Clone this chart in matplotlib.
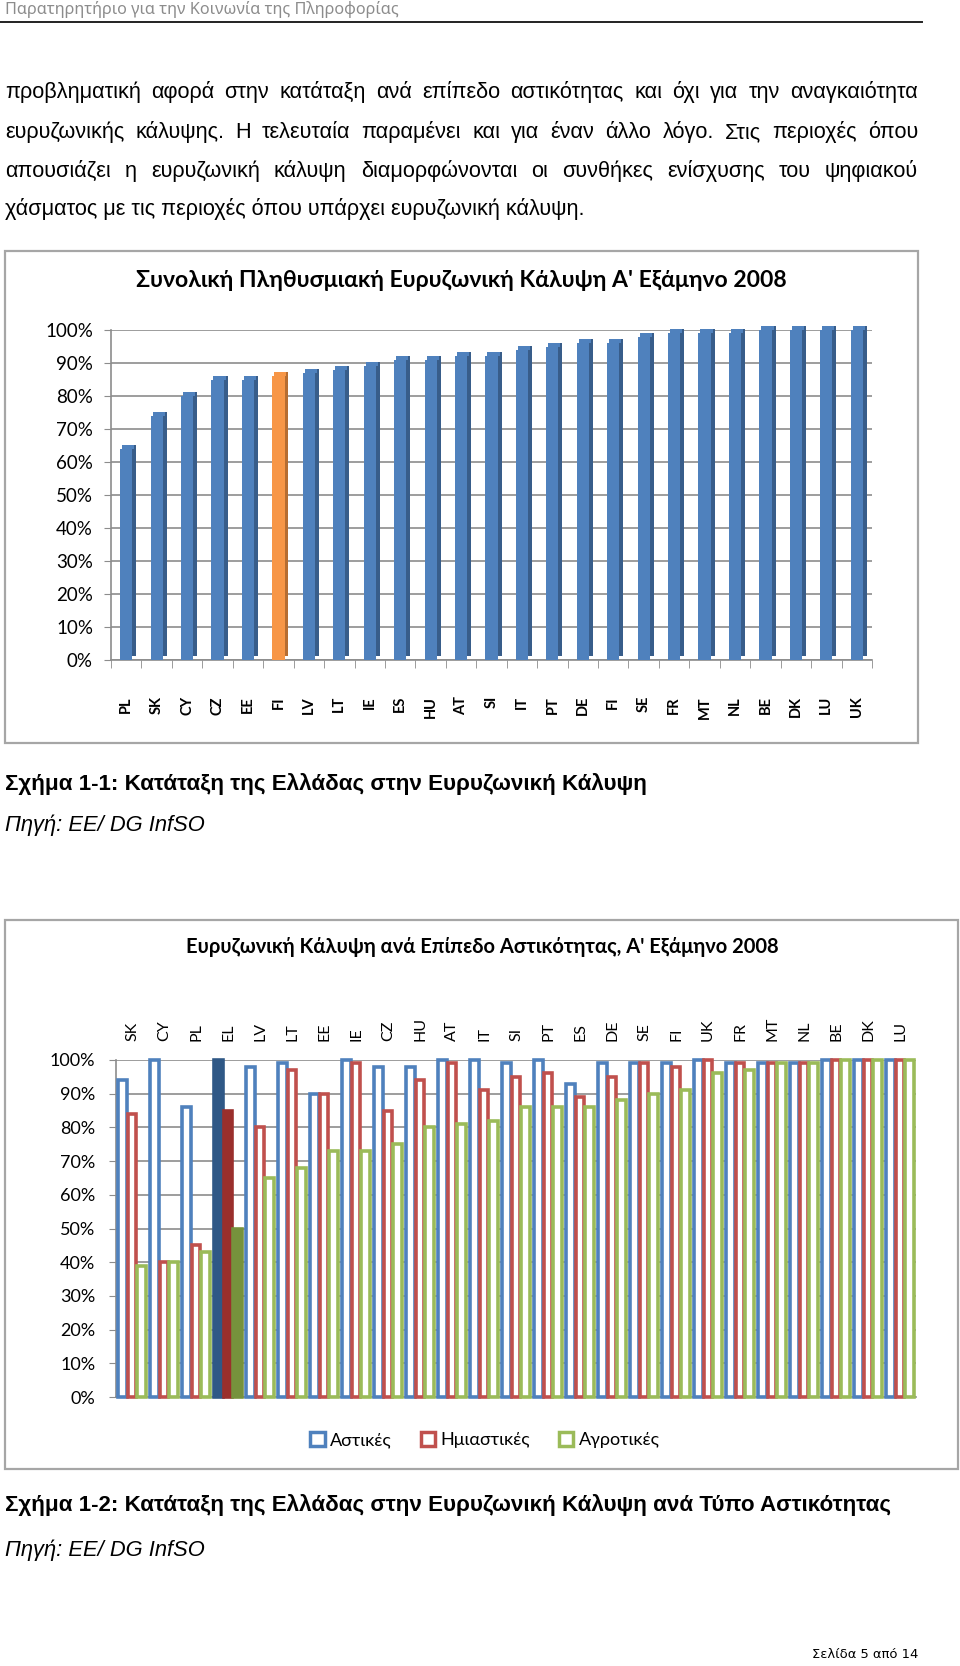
import matplotlib
matplotlib.use('Agg')
import matplotlib.pyplot as plt
from matplotlib.patches import Rectangle, Patch
from matplotlib.lines import Line2D
import numpy as np

# --- data -------------------------------------------------------------
countries_total = ['PL', 'SK', 'CY', 'CZ', 'EE', 'FI', 'LV', 'LT', 'IE', 'ES', 'HU', 'AT', 'SI',
                   'IT', 'PT', 'DE', 'FI', 'SE', 'FR', 'MT', 'NL', 'BE', 'DK', 'LU', 'UK']
coverage_total = [64, 74, 80, 85, 85, 86, 87, 88, 89, 91, 91, 92, 92,
                  94, 95, 96, 96, 98, 99, 99, 99, 100, 100, 100, 100]
highlight_total = 5

countries_type = ['SK', 'CY', 'PL', 'EL', 'LV', 'LT', 'EE', 'IE', 'CZ', 'HU', 'AT', 'IT', 'SI',
                  'PT', 'ES', 'DE', 'SE', 'FI', 'UK', 'FR', 'MT', 'NL', 'BE', 'DK', 'LU']
urban = [94, 100, 86, 100, 98, 99, 90, 100, 98, 98, 100, 100, 99,
         100, 93, 99, 99, 99, 100, 99, 99, 99, 100, 100, 100]
semi_urban = [84, 40, 45, 85, 80, 97, 90, 99, 85, 94, 99, 91, 95,
              96, 89, 95, 99, 98, 100, 99, 99, 99, 100, 100, 100]
rural = [39, 40, 43, 50, 65, 68, 73, 73, 75, 80, 81, 82, 86,
         86, 86, 88, 90, 91, 96, 97, 99, 99, 100, 100, 100]
series_names = ['Αστικές', 'Ημιαστικές', 'Αγροτικές']
highlight_type = 3

percent_ticks = list(range(0, 101, 10))
percent_labels = ['%d%%' % p for p in percent_ticks]

paragraph = [
    'προβληματική αφορά στην κατάταξη ανά επίπεδο αστικότητας και όχι για την αναγκαιότητα',
    'ευρυζωνικής κάλυψης. Η τελευταία παραμένει και για έναν άλλο λόγο. Στις περιοχές όπου',
    'απουσιάζει η ευρυζωνική κάλυψη διαμορφώνονται οι συνθήκες ενίσχυσης του ψηφιακού',
    'χάσματος με τις περιοχές όπου υπάρχει ευρυζωνική κάλυψη.',
]

BLUE, BLUE_D, BLUE_DD = '#4F81BD', '#385D8A', '#2F5886'
ORANGE, ORANGE_D = '#F79646', '#B66D31'
RED, RED_D = '#C0504D', '#9A2F2C'
GREEN, GREEN_D = '#9BBB59', '#76923C'
CHART_FONT = ['Lato', 'Open Sans', 'DejaVu Sans']
TEXT_FONT = ['Liberation Sans', 'DejaVu Sans']

W, H = 960, 1666
fig = plt.figure(figsize=(W / 100, H / 100), dpi=100)
renderer = fig.canvas.get_renderer()


def fx(x):
    return x / W


def fy(y):
    return 1 - y / H


def fit(s, x, y, width, ha='left', va='center', **kw):
    # size the text so that it covers the given pixel width
    t = fig.text(fx(x), fy(y), s, fontsize=10, ha=ha, va=va, **kw)
    w = t.get_window_extent(renderer).width
    t.set_fontsize(10 * width / w)
    return t


def justify(line, y, x0, x1, size):
    words = line.split(' ')
    texts = [fig.text(0, fy(y), w, fontsize=size, family=TEXT_FONT, va='baseline') for w in words]
    widths = [t.get_window_extent(renderer).width for t in texts]
    gap = (x1 - x0 - sum(widths)) / (len(words) - 1)
    x = x0
    for t, w in zip(texts, widths):
        t.set_x(fx(x))
        x += w + gap


def px_axes(l, t, r, b):
    return fig.add_axes([fx(l), fy(b), (r - l) / W, (b - t) / H])


def box(l, t, r, b):
    fig.add_artist(Rectangle((fx(l), fy(b)), (r - l) / W, (b - t) / H, transform=fig.transFigure,
                             fill=False, edgecolor='#A6A6A6', lw=1.6))


# --- page header and text ---------------------------------------------
fit('Παρατηρητήριο για την Κοινωνία της Πληροφορίας', 5, 10, 393, color='#8C8C8C',
    family=['Noto Sans', 'DejaVu Sans'])
fig.add_artist(Line2D([0, fx(922)], [fy(22), fy(22)], color='#222222', lw=1.4,
                      transform=fig.transFigure))

last = fit(paragraph[-1], 5, 215, 582, va='baseline', family=TEXT_FONT)
psize = last.get_fontsize()
for line, y in zip(paragraph[:-1], [98, 138, 177]):
    justify(line, y, 5, 918, psize)

# --- chart 1 ------------------------------------------------------------
box(5, 251, 918, 743)
fit('Συνολική Πληθυσμιακή Ευρυζωνική Κάλυψη Α\' Εξάμηνο 2008', 461, 280, 652, ha='center',
    family=CHART_FONT, fontweight='bold')

ax1 = px_axes(111, 330, 872, 660)
x1 = np.arange(len(countries_total))
v1 = np.array(coverage_total) / 100
fronts = [ORANGE if i == highlight_total else BLUE for i in x1]
sides = [ORANGE_D if i == highlight_total else BLUE_D for i in x1]
ax1.bar(x1 + 0.265, v1, width=0.13, bottom=0.012, color=sides, zorder=2, clip_on=False)
ax1.bar(x1 + 0.065, 0.012, width=0.4, bottom=v1, color=fronts, zorder=2, clip_on=False)
ax1.bar(x1, v1, width=0.4, color=fronts, zorder=3, clip_on=False)
ax1.set_xlim(-0.5, len(countries_total) - 0.5)
ax1.set_ylim(0, 1)
ax1.set_yticks(np.array(percent_ticks) / 100)
ax1.set_yticklabels(percent_labels, family=CHART_FONT, fontsize=13.5)
ax1.set_xticks(x1)
ax1.set_xticklabels(countries_total, rotation=90, va='top', family=CHART_FONT,
                    fontweight='bold', fontsize=10.5)
ax1.set_xticks(np.arange(len(countries_total) + 1) - 0.5, minor=True)
ax1.tick_params(axis='x', which='major', length=0, pad=26)
ax1.tick_params(axis='x', which='minor', length=6, color='#8C8C8C')
ax1.tick_params(axis='y', length=5, color='#8C8C8C', pad=8)
ax1.grid(axis='y', color='#8C8C8C', lw=1.2)
ax1.set_axisbelow(True)
for s in ['top', 'right']:
    ax1.spines[s].set_visible(False)
for s in ['left', 'bottom']:
    ax1.spines[s].set_color('#8C8C8C')
    ax1.spines[s].set_linewidth(1.2)

fit('Σχήμα 1-1: Κατάταξη της Ελλάδας στην Ευρυζωνική Κάλυψη', 5, 784, 640,
    family=TEXT_FONT, fontweight='bold')
fit('Πηγή: ΕΕ/ DG InfSO', 5, 825, 200, family=TEXT_FONT, style='italic')

# --- chart 2 ------------------------------------------------------------
box(5, 920, 958, 1469)
fit('Ευρυζωνική Κάλυψη ανά Επίπεδο Αστικότητας, Α\' Εξάμηνο 2008', 482, 947, 592, ha='center',
    family=CHART_FONT, fontweight='bold')

ax2 = px_axes(116, 1060, 916, 1397)
x2 = np.arange(len(countries_type))
series = [urban, semi_urban, rural]
colors = [BLUE, RED, GREEN]
dark = [BLUE_DD, RED_D, GREEN_D]
offsets = [-0.31, 0.0, 0.31]
for vals, c, d, off in zip(series, colors, dark, offsets):
    faces = [d if i == highlight_type else 'white' for i in x2]
    edges = [d if i == highlight_type else c for i in x2]
    ax2.bar(x2 + off, np.array(vals) / 100, width=0.28, color=faces, edgecolor=edges,
            linewidth=2.6, zorder=3, clip_on=False)
ax2.set_xlim(-0.5, len(countries_type) - 0.5)
ax2.set_ylim(0, 1)
ax2.set_yticks(np.array(percent_ticks) / 100)
ax2.set_yticklabels(percent_labels, family=CHART_FONT, fontsize=13)
ax2.xaxis.tick_top()
ax2.set_xticks(x2)
ax2.set_xticklabels(countries_type, rotation=90, va='bottom', family=CHART_FONT, fontsize=11.5)
ax2.tick_params(axis='x', length=0, pad=14)
ax2.tick_params(axis='y', length=5, color='#8C8C8C', pad=10)
ax2.grid(axis='y', color='#8C8C8C', lw=1.2)
ax2.set_axisbelow(True)
for s in ['top', 'right']:
    ax2.spines[s].set_visible(False)
for s in ['left', 'bottom']:
    ax2.spines[s].set_color('#8C8C8C')
    ax2.spines[s].set_linewidth(1.2)

handles = [Patch(facecolor='white', edgecolor=c, lw=2.5) for c in colors]
fig.legend(handles, series_names, loc='center', bbox_to_anchor=(fx(485), fy(1440)), ncol=3,
           frameon=False, prop={'family': CHART_FONT, 'size': 13}, handlelength=0.8,
           handleheight=0.8, handletextpad=0.3, columnspacing=1.6)

fit('Σχήμα 1-2: Κατάταξη της Ελλάδας στην Ευρυζωνική Κάλυψη ανά Τύπο Αστικότητας', 5, 1505, 885,
    family=TEXT_FONT, fontweight='bold')
fit('Πηγή: ΕΕ/ DG InfSO', 5, 1550, 200, family=TEXT_FONT, style='italic')

fit('Σελίδα 5 από 14', 812, 1654, 106, family=['DejaVu Sans'])

fig.savefig('out.png', dpi=100)
